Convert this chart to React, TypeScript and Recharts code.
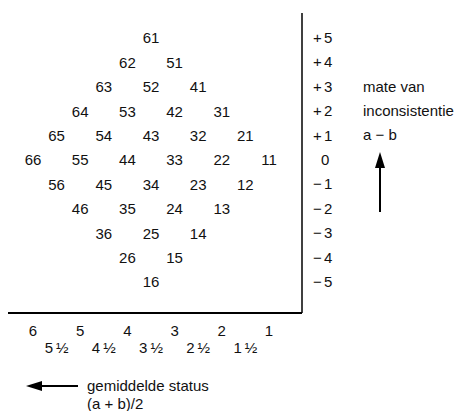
import React from "react";
import { ScatterChart, Scatter, XAxis, YAxis } from "recharts";

// cell codes "ab": first digit = status a, second digit = status b
const cellLabels = [
  "61",
  "62", "51",
  "63", "52", "41",
  "64", "53", "42", "31",
  "65", "54", "43", "32", "21",
  "66", "55", "44", "33", "22", "11",
  "56", "45", "34", "23", "12",
  "46", "35", "24", "13",
  "36", "25", "14",
  "26", "15",
  "16",
];
const statusTicks = [6, 5.5, 5, 4.5, 4, 3.5, 3, 2.5, 2, 1.5, 1];
const inconsistencyTicks = [5, 4, 3, 2, 1, 0, -1, -2, -3, -4, -5];
const yTitleLines = ["mate van", "inconsistentie", "a \u2212 b"];
const xTitleLines = ["gemiddelde status", "(a + b)/2"];

const cells = cellLabels.map((label) => {
  const a = Number(label[0]);
  const b = Number(label[1]);
  return { label, status: (a + b) / 2, inconsistency: a - b };
});

const font = "'Liberation Sans', Arial, sans-serif";
const W = 475;
const H = 411;

function CellLabel(props: any) {
  const { cx, cy, payload } = props;
  return (
    <text x={cx} y={cy} dy="0.36em" textAnchor="middle" fontSize={15} fontFamily={font} fill="#111">
      {payload.label}
    </text>
  );
}

function StatusTick(props: any) {
  const { x, y, payload } = props;
  const v = payload.value as number;
  const half = v % 1 !== 0;
  const text = half ? `${Math.floor(v)}\u2009\u00BD` : String(v);
  return (
    <text x={x} y={y + (half ? 40 : 23)} textAnchor="middle" fontSize={15} fontFamily={font} fill="#111">
      {text}
    </text>
  );
}

function InconsistencyTick(props: any) {
  const { x, y, payload } = props;
  const v = payload.value as number;
  const sign = v > 0 ? "+" : v < 0 ? "\u2212" : "";
  return (
    <text y={y + 5} fontSize={15} fontFamily={font} fill="#111">
      {sign && <tspan x={x + 11}>{sign}</tspan>}
      <tspan x={x + (v === 0 ? 19 : 22)}>{Math.abs(v)}</tspan>
    </text>
  );
}

export default function App() {
  return (
    <div style={{ position: "absolute", left: 0, top: 0, width: W, height: H, background: "#fff" }}>
      <ScatterChart width={W} height={H} margin={{ top: 13, left: 8, right: 0, bottom: 0 }}>
        <XAxis
          type="number"
          dataKey="status"
          domain={[0.3, 6.53]}
          reversed
          ticks={statusTicks}
          interval={0}
          height={98}
          tickSize={0}
          tickMargin={0}
          tickLine={false}
          axisLine={{ stroke: "#000", strokeWidth: 2 }}
          tick={<StatusTick />}
        />
        <YAxis
          type="number"
          dataKey="inconsistency"
          orientation="right"
          domain={[-6.27, 6.02]}
          ticks={inconsistencyTicks}
          interval={0}
          width={173}
          tickSize={0}
          tickMargin={0}
          tickLine={false}
          axisLine={{ stroke: "#000", strokeWidth: 1.5 }}
          tick={<InconsistencyTick />}
        />
        <Scatter data={cells} shape={<CellLabel />} isAnimationActive={false} />
      </ScatterChart>
      <svg
        width={W}
        height={H}
        style={{ position: "absolute", left: 0, top: 0, pointerEvents: "none" }}
      >
        {yTitleLines.map((t, i) => (
          <text key={t} x={363} y={92 + i * 24} fontSize={15} fontFamily={font} fill="#111">
            {t}
          </text>
        ))}
        <line x1={380} y1={166} x2={380} y2={212} stroke="#000" strokeWidth={2} />
        <polygon points="380,152 375,168 385,168" fill="#000" />
        <line x1={40} y1={386} x2={78} y2={386} stroke="#000" strokeWidth={2} />
        <polygon points="26,386 42,381 42,391" fill="#000" />
        {xTitleLines.map((t, i) => (
          <text key={t} x={87} y={391 + i * 18} fontSize={15} fontFamily={font} fill="#111">
            {t}
          </text>
        ))}
      </svg>
    </div>
  );
}
